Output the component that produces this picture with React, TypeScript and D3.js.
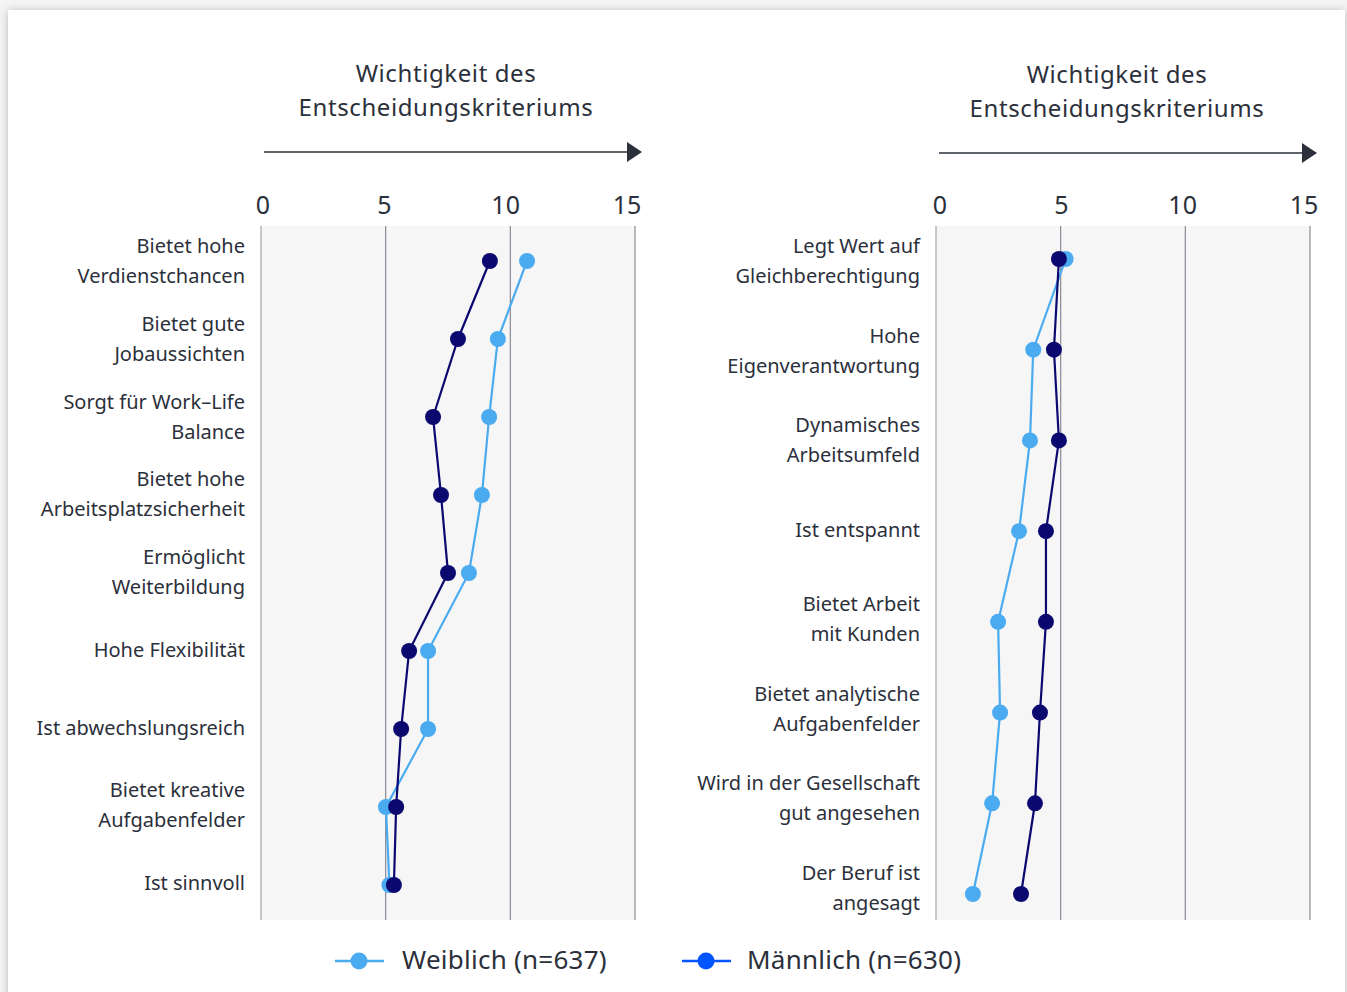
import React, { useEffect, useRef } from "react";
import * as d3 from "d3";

// left panel
const leftCategories = [
  ["Bietet hohe", "Verdienstchancen"],
  ["Bietet gute", "Jobaussichten"],
  ["Sorgt für Work–Life", "Balance"],
  ["Bietet hohe", "Arbeitsplatzsicherheit"],
  ["Ermöglicht", "Weiterbildung"],
  ["Hohe Flexibilität"],
  ["Ist abwechslungsreich"],
  ["Bietet kreative", "Aufgabenfelder"],
  ["Ist sinnvoll"],
];
const leftFemale = [10.67, 9.5, 9.15, 8.86, 8.34, 6.7, 6.7, 5.01, 5.15];
const leftMale = [9.18, 7.9, 6.9, 7.22, 7.5, 5.94, 5.62, 5.42, 5.33];

// right panel
const rightCategories = [
  ["Legt Wert auf", "Gleichberechtigung"],
  ["Hohe", "Eigenverantwortung"],
  ["Dynamisches", "Arbeitsumfeld"],
  ["Ist entspannt"],
  ["Bietet Arbeit", "mit Kunden"],
  ["Bietet analytische", "Aufgabenfelder"],
  ["Wird in der Gesellschaft", "gut angesehen"],
  ["Der Beruf ist", "angesagt"],
];
const rightFemale = [5.2, 3.9, 3.77, 3.33, 2.49, 2.57, 2.25, 1.48];
const rightMale = [4.93, 4.73, 4.93, 4.41, 4.41, 4.17, 3.97, 3.41];

const xTicks = [0, 5, 10, 15];
const titleLines = ["Wichtigkeit des", "Entscheidungskriteriums"];
const legendItems = [
  { label: "Weiblich (n=637)", color: "#4aabf0" },
  { label: "Männlich (n=630)", color: "#0055ff" },
];

const FEMALE = "#4aabf0";
const MALE = "#0b0870";
const TEXT = "#2b303b";
const FONT = "'Noto Sans', 'Open Sans', sans-serif";

const App = () => {
  const svgRef = useRef<SVGSVGElement>(null);

  useEffect(() => {
    const width = 1347;
    const height = 992;
    const svg = d3.select(svgRef.current).attr("width", width).attr("height", height);
    svg.selectAll("*").remove();

    const defs = svg.append("defs");
    const f = defs.append("filter").attr("id", "shadow").attr("x", "-5%").attr("y", "-5%").attr("width", "110%").attr("height", "110%");
    f.append("feGaussianBlur").attr("in", "SourceAlpha").attr("stdDeviation", 4);
    f.append("feOffset").attr("dx", 0).attr("dy", 1).attr("result", "b");
    f.append("feComponentTransfer").append("feFuncA").attr("type", "linear").attr("slope", 0.25);
    const fm = f.append("feMerge");
    fm.append("feMergeNode");
    fm.append("feMergeNode").attr("in", "SourceGraphic");

    svg.append("rect").attr("width", width).attr("height", height).attr("fill", "#f4f4f4");
    svg.append("rect")
      .attr("x", 8).attr("y", 10).attr("width", 1337).attr("height", 1000)
      .attr("fill", "#fff").attr("filter", "url(#shadow)");

    const drawPanel = (
      cats: string[][], female: number[], male: number[],
      x0: number, x1: number, yFirst: number, yLast: number, labFirst: number, labLast: number,
      tickRange: [number, number], titleX: number, titleY: number, arrowY: number
    ) => {
      const g = svg.append("g");
      const x = d3.scaleLinear().domain([0, 15]).range([x0, x1]);
      const xLab = d3.scaleLinear().domain([0, 15]).range(tickRange);
      const y = d3.scalePoint<number>().domain(d3.range(cats.length)).range([yFirst, yLast]);
      const yLab = d3.scalePoint<number>().domain(d3.range(cats.length)).range([labFirst, labLast]);
      const top = 226, bottom = 920;

      // title
      titleLines.forEach((t, i) => {
        g.append("text").attr("x", titleX).attr("y", titleY + i * 34)
          .attr("text-anchor", "middle").attr("font-size", 24).attr("fill", TEXT)
          .attr("font-family", FONT).attr("letter-spacing", 0.6).text(t);
      });
      // arrow
      g.append("line").attr("x1", x0 + 3).attr("x2", x1 - 2).attr("y1", arrowY).attr("y2", arrowY)
        .attr("stroke", TEXT).attr("stroke-width", 1.6);
      g.append("path")
        .attr("d", `M${x1 - 8},${arrowY - 10}L${x1 + 7},${arrowY}L${x1 - 8},${arrowY + 10}Z`)
        .attr("fill", TEXT);

      g.append("rect").attr("x", x(0)).attr("y", top).attr("width", x(15) - x(0)).attr("height", bottom - top)
        .attr("fill", "#f6f6f6");
      xTicks.forEach(t => {
        g.append("line").attr("x1", x(t)).attr("x2", x(t)).attr("y1", top).attr("y2", bottom)
          .attr("stroke", t === 0 ? "#a6a6a6" : "#8a8a96").attr("stroke-width", 1.2);
        g.append("text").attr("x", xLab(t)).attr("y", 214).attr("text-anchor", "middle")
          .attr("font-size", 25).attr("fill", TEXT).attr("font-family", FONT).text(t);
      });

      // category labels
      cats.forEach((lines, i) => {
        const cy = yLab(i)!;
        const startY = cy - ((lines.length - 1) * 30) / 2 + 7;
        lines.forEach((l, j) => {
          g.append("text").attr("x", x0 - 16).attr("y", startY + j * 30).attr("text-anchor", "end")
            .attr("font-size", 20).attr("fill", TEXT).attr("font-family", FONT).text(l);
        });
      });

      const line = d3.line<number>().x(d => x(d)).y((d, i) => y(i)!);
      [[female, FEMALE], [male, MALE]].forEach(([vals, color]) => {
        g.append("path").datum(vals as number[]).attr("d", line).attr("fill", "none")
          .attr("stroke", color as string).attr("stroke-width", 2.2);
      });
      [[female, FEMALE], [male, MALE]].forEach(([vals, color]) => {
        g.selectAll(null).data(vals as number[]).join("circle")
          .attr("cx", d => x(d)).attr("cy", (d, i) => y(i)!).attr("r", 8)
          .attr("fill", color as string);
      });
    };

    drawPanel(leftCategories, leftFemale, leftMale, 261, 635, 261, 885, 261, 883, [263, 627], 446, 82, 152);
    drawPanel(rightCategories, rightFemale, rightMale, 936, 1310, 259, 894, 261, 888, [940, 1304], 1117, 83, 153);

    // legend
    const legendX = [335, 682];
    const legendTextX = [402, 747];
    legendItems.forEach((it, i) => {
      const lg = svg.append("g");
      lg.append("line").attr("x1", legendX[i]).attr("x2", legendX[i] + 49).attr("y1", 961).attr("y2", 961)
        .attr("stroke", it.color).attr("stroke-width", 2.5);
      lg.append("circle").attr("cx", legendX[i] + 24).attr("cy", 961).attr("r", 8.5).attr("fill", it.color);
      lg.append("text").attr("x", legendTextX[i]).attr("y", 969).attr("font-size", 26)
        .attr("fill", TEXT).attr("font-family", FONT).attr("letter-spacing", 0.25).text(it.label);
    });
  }, []);

  return (
    <>
      <style>{"body{margin:0}"}</style>
      <svg ref={svgRef} style={{ display: "block" }}></svg>
    </>
  );
};

export default App;
